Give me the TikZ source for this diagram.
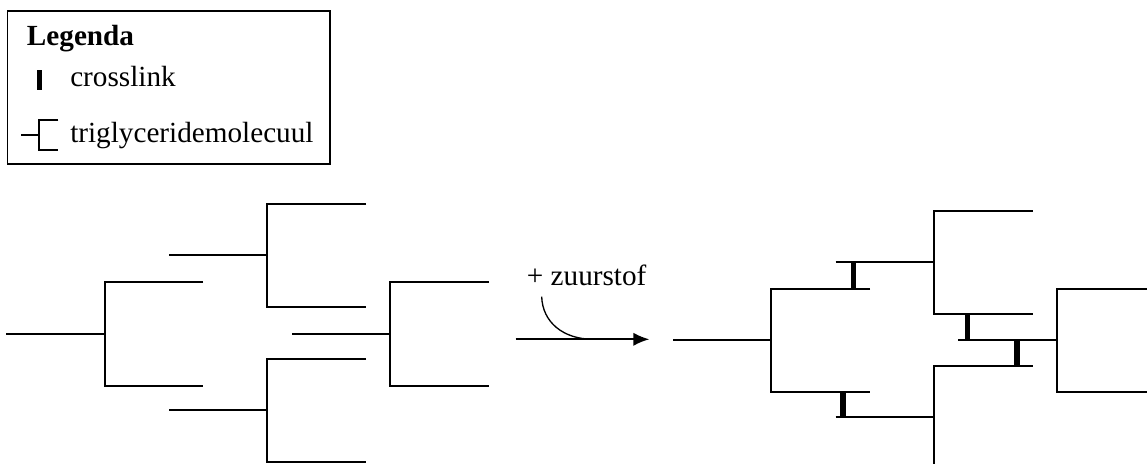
\documentclass[tikz,border=0pt]{standalone}
\usepackage{fontspec}
\setmainfont{Liberation Serif}
\usepackage{tikz}
\usetikzlibrary{calc, positioning}
\usetikzlibrary{arrows.meta}

\tikzset{
	fatchain/.style={line width=1.3pt},
	crossbar/.style={line width=4.2pt},
	legendlabel/.style={anchor=base west, inner sep=0pt, font=\fontsize{21.9}{26}\selectfont},
}

\begin{document}
\begin{tikzpicture}[x=0.75pt,y=0.75pt,yscale=-1,xscale=1]
		\useasboundingbox (0,0) rectangle (1147,464);

		%Shape: Rectangle [legend box]
		\draw [line width=0.9pt] (7.3,11) rectangle (330,164);
		% Text Node
		\node (legtitle) [legendlabel, font=\fontsize{21.9}{26}\selectfont\bfseries] at (26.7,45.7) {Legenda};
		% Text Node
		\node (legxlink) [legendlabel] at (70,86) {crosslink};
		% Text Node
		\node (legmol) [legendlabel] at (70,142) {triglyceridemolecuul};
		%Straight Lines [legend crosslink]
		\draw [crossbar] (39.3,70) -- (39.3,90);
		%Straight Lines [legend molecule]
		\draw [fatchain] (21,135) -- (39.3,135);
		\draw [fatchain] (58.3,120) -- (39.3,120) -- (39.3,150) -- (58.3,150);

		%Left molecules
		\draw [fatchain] (6,333.7) -- (105,333.7);
		\draw [fatchain] (203,281.7) -- (105,281.7) -- (105,385.7) -- (203,385.7);
		\draw [fatchain] (169,255.3) -- (267,255.3);
		\draw [fatchain] (366,203.7) -- (267,203.7) -- (267,307) -- (366,307);
		\draw [fatchain] (169,410) -- (267,410);
		\draw [fatchain] (366,359) -- (267,359) -- (267,462.3) -- (366,462.3);
		\draw [fatchain] (292,333.7) -- (390,333.7);
		\draw [fatchain] (489,281.7) -- (390,281.7) -- (390,385.7) -- (489,385.7);

		%Arrow with oxygen
		\coordinate (arrstart) at (515.7,339.3);
		\coordinate (arrend) at (649.3,339.3);
		\coordinate (oxtop) at (541.7,296.7);
		\coordinate (oxjoin) at (593.3,339.3);
		\draw [fatchain, -{Latex[length=12pt,width=10pt]}] (arrstart) -- (arrend);
		\draw [line width=1pt] (oxtop) .. controls (542.5,322) and (563,339.3) .. (oxjoin);
		% Text Node
		\node (oxlabel) [legendlabel] at (526.7,285.7) {+ zuurstof};

		%Right molecules
		\draw [fatchain] (673,340.3) -- (771,340.3);
		\draw [fatchain] (870,288.7) -- (771,288.7) -- (771,392.3) -- (870,392.3);
		\draw [fatchain] (835.7,261.7) -- (933.7,261.7);
		\draw [fatchain] (1032.7,210.7) -- (933.7,210.7) -- (933.7,314) -- (1032.7,314);
		\draw [fatchain] (835.7,417) -- (933.7,417);
		\draw [fatchain] (1032.7,365.7) -- (933.7,365.7) -- (933.7,466);
		\draw [fatchain] (958.3,340.3) -- (1056.7,340.3);
		\draw [fatchain] (1149,289) -- (1056.7,289) -- (1056.7,392.3) -- (1149,392.3);

		%Crosslinks
		\draw [crossbar] (853.3,261.7) -- (853.3,288.7);
		\draw [crossbar] (842.7,392.3) -- (842.7,417);
		\draw [crossbar] (967.3,314) -- (967.3,340.3);
		\draw [crossbar] (1017,340.3) -- (1017,365.7);

	\end{tikzpicture}
\end{document}
